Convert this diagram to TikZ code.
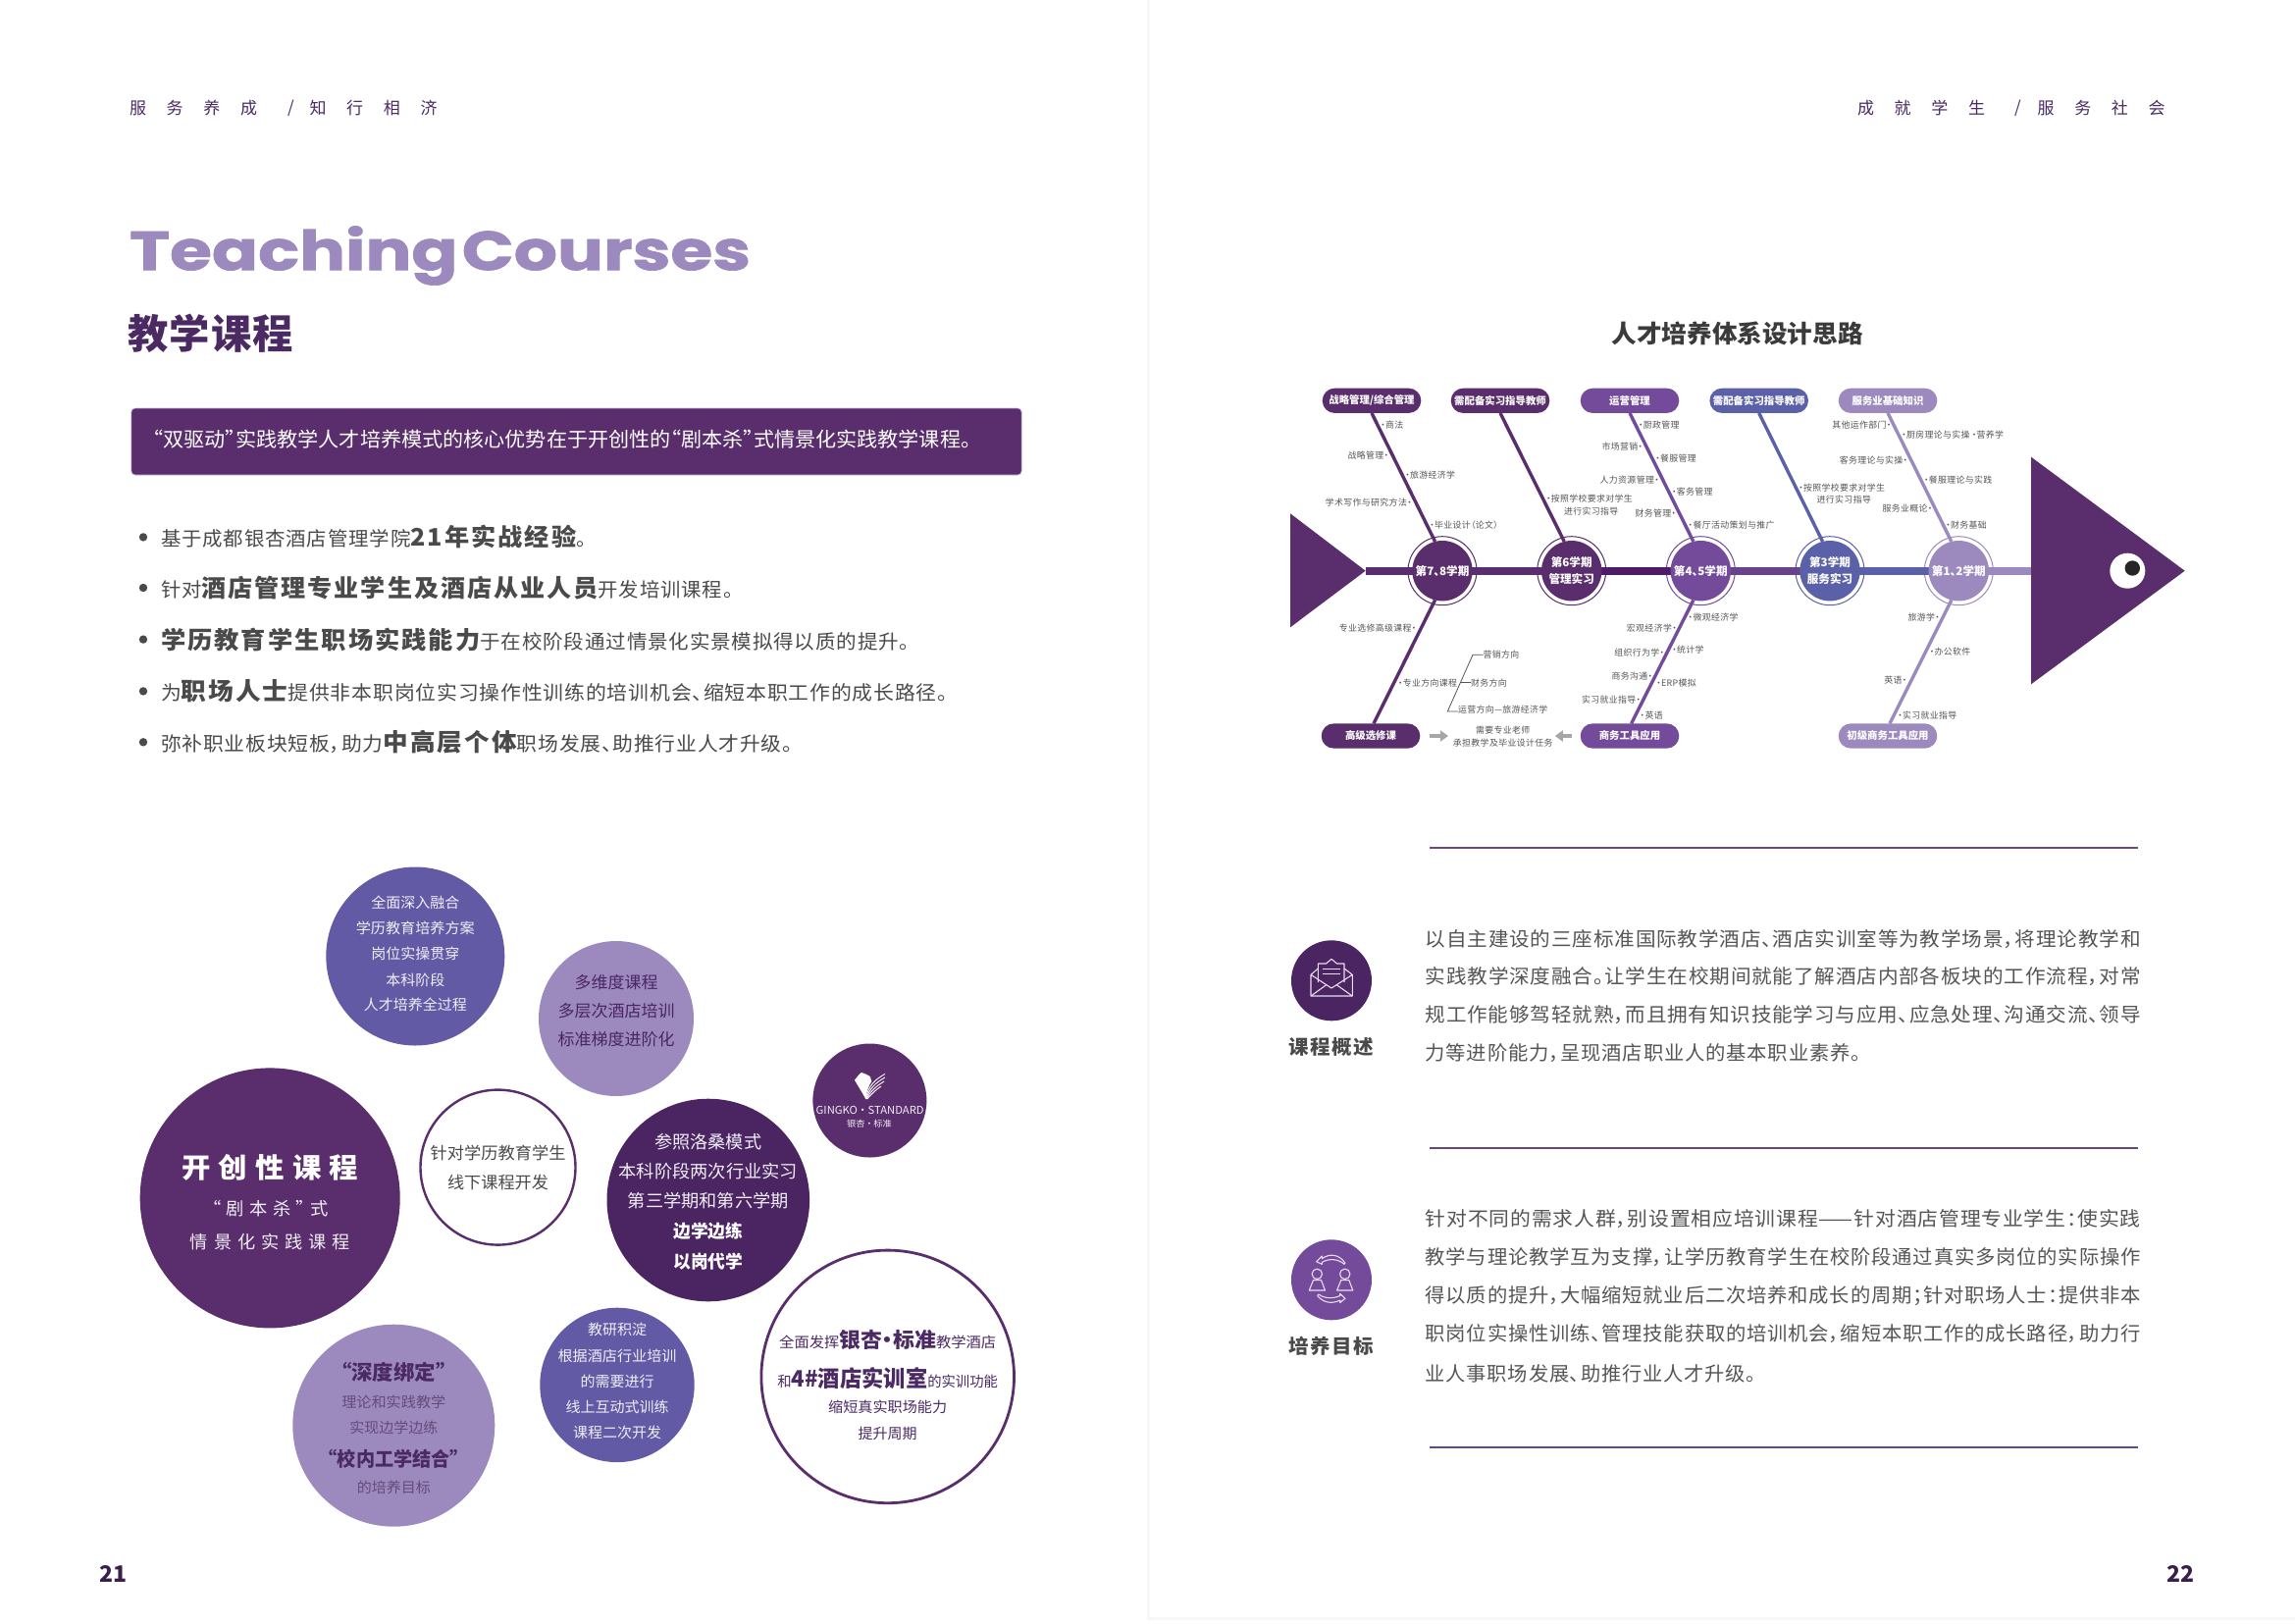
\documentclass[tikz,border=0pt]{standalone}
\usepackage{fontspec}
\usepackage{graphicx}
\usetikzlibrary{arrows.meta}
\setmainfont{Noto Sans CJK SC}[RawFeature=+palt]
\newfontfamily\titlefont[FakeBold=1.2]{Poppins}
\pgfdeclarelayer{rings}\pgfdeclarelayer{conn}\pgfsetlayers{rings,conn,main}
\definecolor{dk}{HTML}{5A2D6C}
\definecolor{dp}{HTML}{4B2462}
\definecolor{sp}{HTML}{4F1B68}
\definecolor{md}{HTML}{744A9B}
\definecolor{bl}{HTML}{5B61A8}
\definecolor{vi}{HTML}{625AA5}
\definecolor{lt}{HTML}{9C8ABF}
\definecolor{hd}{HTML}{4B2A63}
\definecolor{tx}{HTML}{4A4A4A}
\definecolor{fb}{HTML}{555555}
\definecolor{pl}{HTML}{EADCF0}
\definecolor{wh}{HTML}{F0EEF6}
\newcounter{tn}
\newcommand{\tshift}{0pt}
\newcommand{\ls}[1]{\addfontfeature{LetterSpace=#1}}
\newcommand{\W}[2]{\resizebox{\dimexpr#1pt/2\relax}{\height}{#2}}
\newcommand{\bigb}{\fontsize{12.3}{13}\selectfont\bfseries\ls{8}}
% \T[opts]{anchor}{x}{y}{size}{colour}{text}
\newcommand{\T}[7][]{\stepcounter{tn}\node (t\the\value{tn}) [anchor=#2,inner sep=0pt,outer sep=0pt,text=#6,yshift=\tshift,font={\fontsize{#5}{#5}\selectfont},#1] at (#3,#4) {#7};}
\newcommand{\FB}[4]{\T{#1}{#2}{#3}{4.45}{fb}{\ls{4}#4}}
\tikzset{
  disc/.style={circle,inner sep=0pt,outer sep=0pt,minimum size=#1},
  pill/.style={rectangle,rounded corners=6.3pt,fill=#1,text=white,inner sep=0pt,outer sep=0pt,minimum width=50.3pt,minimum height=12.65pt,font={\fontsize{5.2}{6}\selectfont\bfseries}},
  ringo/.style={circle,draw=#1,fill=white,line width=.5pt,inner sep=0pt,outer sep=0pt,minimum size=35pt},
  ringi/.style={circle,fill=#1,text=white,inner sep=0pt,outer sep=0pt,minimum size=30.7pt,align=center,font={\fontsize{5.8}{8.2}\selectfont\bfseries}},
  bone/.style={draw=#1,line width=1.7pt},
  spine/.style={draw=#1,line width=4pt},
  rule/.style={draw=#1,line width=1pt},
  grayarrow/.style={draw=gray!70,line width=1.6pt,-{Triangle[length=4pt,width=5.5pt]}},
  iconline/.style={draw=pl,line width=.55pt,line join=round}
}
\begin{document}
\begin{tikzpicture}[x=0.5pt,y=-0.5pt]
\useasboundingbox (0,0) rectangle (2339,1654);
\begin{pgfonlayer}{rings}
\fill[white] (0,0) rectangle (2339,1654);
\fill[black!3] (1169,0) rectangle (1172,1648);
\fill[black!3] (1169,1648) rectangle (2339,1651);
\end{pgfonlayer}

% ---------- left page ----------
\T{west}{132}{110}{8.5}{hd}{\ls{122}服务养成}
\T{west}{293}{110}{8.5}{hd}{/}
\T{west}{315.5}{110}{8.5}{hd}{\ls{122}知行相济}
\T{west}{132}{260.5}{28}{lt}{\W{633}{\titlefont\bfseries Teaching\hspace{.06em}Courses}}
\T{west}{130}{339.5}{20.5}{hd}{\W{169}{\bfseries\ls{3}教学课程}}

\node[rectangle,rounded corners=2pt,fill=dk,draw=lt!60,line width=.3pt,inner sep=0pt,outer sep=0pt,minimum width=453.7pt,minimum height=34pt] (banner) at (587.5,450) {};
\T{west}{156}{447.5}{10.3}{white}{\W{833.7}{“双驱动”实践教学人才培养模式的核心优势在于开创性的“剧本杀”式情景化实践教学课程。}}

\foreach \yy in {547.4,599,651.6,704.4,756.3}{\fill[tx] (146,\yy) circle [radius=2.1pt];}
\T{west}{164}{547.4}{10}{tx}{\W{433.4}{\ls{4}基于成都银杏酒店管理学院{\bigb 21年实战经验}。}}
\T{west}{164}{599}{10}{tx}{\W{583}{\ls{4}针对{\bigb 酒店管理专业学生及酒店从业人员}开发培训课程。}}
\T{west}{164}{651.6}{10}{tx}{\W{763}{\ls{4}{\bigb 学历教育学生职场实践能力}于在校阶段通过情景化实景模拟得以质的提升。}}
\T{west}{164}{704.4}{10}{tx}{\W{802}{\ls{4}为{\bigb 职场人士}提供非本职岗位实习操作性训练的培训机会、缩短本职工作的成长路径。}}
\T{west}{164}{756.3}{10}{tx}{\W{644}{\ls{4}弥补职业板块短板，助力{\bigb 中高层个体}职场发展、助推行业人才升级。}}

% circles
\node[disc=132.5pt,fill=dk] (cbig) at (275.2,1220.9) {};
\node[disc=91pt,fill=vi] (ctop) at (423.3,974.5) {};
\node[disc=79pt,fill=lt] (cmulti) at (628,1038) {};
\node[disc=79pt,draw=dk,line width=1.2pt,fill=white] (cline) at (507.5,1189.6) {};
\node[disc=103.3pt,fill=dp] (cref) at (721.8,1223) {};
\node[disc=58pt,fill=dk] (clogo) at (886.4,1121.5) {};
\node[disc=103pt,fill=lt] (cbind) at (401.3,1452.7) {};
\node[disc=78.7pt,fill=vi] (cres) at (629,1411.4) {};
\node[disc=128.8pt,draw=dk,line width=1.4pt,fill=white] (cgs) at (904.7,1402.9) {};

\renewcommand{\tshift}{-.7pt}
\T{center}{423.3}{918.8}{7.4}{wh}{\W{90}{全面深入融合}}
\T{center}{423.3}{944.7}{7.4}{wh}{\W{121}{学历教育培养方案}}
\T{center}{423.3}{970.6}{7.4}{wh}{\W{90}{岗位实操贯穿}}
\T{center}{423.3}{997}{7.4}{wh}{\W{60}{本科阶段}}
\T{center}{423.3}{1022.9}{7.4}{wh}{\W{105}{人才培养全过程}}

\T{center}{275.2}{1188}{14}{white}{\W{180}{\bfseries\ls{28}开创性课程}}
\T{center}{275.5}{1230.4}{9}{wh}{\W{119}{\ls{30}“剧本杀”式}}
\T{center}{275.5}{1264}{9}{wh}{\W{163}{\ls{33}情景化实践课程}}

\T{center}{507.5}{1173.7}{8.5}{tx}{\W{138}{针对学历教育学生}}
\T{center}{507.5}{1203.7}{8.5}{tx}{\W{103}{线下课程开发}}

\T{center}{628}{999.5}{8.4}{dp}{\W{85}{多维度课程}}
\T{center}{628}{1029}{8.4}{dp}{\W{119}{多层次酒店培训}}
\T{center}{628}{1058}{8.4}{dp}{\W{119}{标准梯度进阶化}}

\T{center}{721.8}{1162}{9}{wh}{\W{109}{参照洛桑模式}}
\T{center}{721.8}{1192}{9}{wh}{\W{182.5}{本科阶段两次行业实习}}
\T{center}{721.8}{1222}{9}{wh}{\W{164}{第三学期和第六学期}}
\T{center}{721.8}{1252.8}{9}{white}{\W{71}{\bfseries 边学边练}}
\T{center}{721.8}{1283.8}{9}{white}{\W{71}{\bfseries 以岗代学}}

\T{center}{401.3}{1397}{10.5}{hd}{\W{107}{\bfseries “深度绑定”}}
\T{center}{401.3}{1427.3}{7.4}{hd!85}{\W{106}{理论和实践教学}}
\T{center}{401.3}{1453.7}{7.4}{hd!85}{\W{90}{实现边学边练}}
\T{center}{401.3}{1485.4}{10}{hd}{\W{134}{\bfseries “校内工学结合”}}
\T{center}{401.3}{1514.8}{7.4}{hd!85}{\W{75}{的培养目标}}

\T{center}{629}{1353.4}{7.4}{wh}{\W{60}{教研积淀}}
\T{center}{629}{1380}{7.4}{wh}{\W{121}{根据酒店行业培训}}
\T{center}{629}{1406}{7.4}{wh}{\W{75}{的需要进行}}
\T{center}{629}{1432.6}{7.4}{wh}{\W{105}{线上互动式训练}}
\T{center}{629}{1458.4}{7.4}{wh}{\W{90}{课程二次开发}}

\T{center}{904.7}{1363.7}{7.4}{hd}{\W{221}{全面发挥{\fontsize{10.6}{10.6}\selectfont\bfseries 银杏·标准}教学酒店}}
\T{center}{904.7}{1403.3}{7.4}{hd}{\W{224.5}{和{\fontsize{11.5}{11.5}\selectfont\bfseries 4\#酒店实训室}的实训功能}}
\T{center}{904.7}{1432.6}{7.4}{hd}{\W{121}{缩短真实职场能力}}
\T{center}{904.7}{1459.4}{7.4}{hd}{\W{60}{提升周期}}
\renewcommand{\tshift}{0pt}

% logo
\fill[white] (882.3,1120) .. controls (878,1112) and (874,1106) .. (871,1100.7) .. controls (874,1097) and (876,1094) .. (878,1093) .. controls (881,1094) and (884,1095) .. (886.7,1097) .. controls (887,1099) and (888,1100) .. (888.3,1102) .. controls (885,1107) and (883,1113) .. (882.3,1120) -- cycle;
\draw[white,line width=.45pt] (882.3,1120) .. controls (885,1106) and (892,1100) .. (902,1094.5);
\draw[white,line width=.45pt] (882.8,1120) .. controls (886,1109) and (893,1103) .. (902,1098);
\draw[white,line width=.45pt] (883.3,1120) .. controls (887,1112) and (893,1107) .. (901,1102);
\draw[white,line width=.45pt] (883.8,1120) .. controls (888,1115) and (892,1111) .. (898,1107);
\T{center}{886.7}{1131.7}{5.5}{wh}{\W{110}{GINGKO · STANDARD}}
\T{center}{886}{1145}{4.4}{wh}{\W{46}{银杏 · 标准}}

\T{center}{115.5}{1603.6}{11.5}{hd!75!black}{\bfseries 21}
\T{center}{2222.6}{1603.6}{11.5}{hd!75!black}{\bfseries 22}

% ---------- right page ----------
\T{west}{1893}{110}{8.5}{hd}{\ls{122}成就学生}
\T{west}{2053}{110}{8.5}{hd}{/}
\T{west}{2076.5}{110}{8.5}{hd}{\ls{122}服务社会}
\T{center}{1770.7}{340}{12.5}{tx!80!black}{\W{256}{\bfseries 人才培养体系设计思路}}

% fish body
\fill[dk] (1315,523.3) -- (1391.7,581.7) -- (1315,639.3) -- cycle;
\coordinate (tailtip) at (1391.7,581.7);
\fill[dk] (2070,465.7) -- (2226.7,581.7) -- (2070,697.3) -- cycle;
\coordinate (headbase) at (2070,581.7);
\fill[white] (2168.3,581.7) circle [radius=9pt];
\fill[black!85] (2173.3,579) circle [radius=3.85pt];

\begin{pgfonlayer}{rings}
\node[ringo=dk] (r1) at (1470,581.7) {};
\node[ringo=dk] (r2) at (1601.7,581.7) {};
\node[ringo=md] (r3) at (1733.3,581.7) {};
\node[ringo=bl] (r4) at (1865,581.7) {};
\node[ringo=lt] (r5) at (1996.3,581.7) {};
\end{pgfonlayer}
\node[ringi=dk] (c1) at (1470,581.7) {第7、8学期};
\node[ringi=dk] (c2) at (1601.7,581.7) {第6学期\\管理实习};
\node[ringi=md] (c3) at (1733.3,581.7) {第4、5学期};
\node[ringi=bl] (c4) at (1865,581.7) {第3学期\\服务实习};
\node[ringi=lt] (c5) at (1996.3,581.7) {第1、2学期};

\node[pill=dk] (p1) at (1398,408.3) {战略管理/综合管理};
\node[pill=dk] (p2) at (1529,408.3) {需配备实习指导教师};
\node[pill=md] (p3) at (1661,408.3) {运营管理};
\node[pill=bl] (p4) at (1792.7,408.3) {需配备实习指导教师};
\node[pill=lt] (p5) at (1924,408.3) {服务业基础知识};
\node[pill=dk] (q1) at (1397,750) {高级选修课};
\node[pill=md] (q3) at (1661,750) {商务工具应用};
\node[pill=lt] (q5) at (1924,750) {初级商务工具应用};

\begin{pgfonlayer}{conn}
\draw[spine=dk] (tailtip) -- (r1.center);
\draw[spine=dk] (r1.center) -- (r2.center);
\draw[spine=sp] (r2.center) -- (r3.center);
\draw[spine=md!90!black] (r3.center) -- (r4.center);
\draw[spine=bl] (r4.center) -- (r5.center);
\draw[spine=lt] (r5.center) -- (headbase);
\draw[bone=dk] (p1.south) -- (c1.104);
\draw[bone=dk] (p2.south) -- (c2.104);
\draw[bone=md] (p3.south) -- (c3.104);
\draw[bone=bl] (p4.south) -- (c4.104);
\draw[bone=lt] (p5.south) -- (c5.104);
\draw[bone=dk] (c1.256) -- ([xshift=1.5pt]q1.north);
\draw[bone=md] (c3.256) -- ([xshift=.8pt]q3.north);
\draw[bone=lt] (c5.256) -- ([xshift=1pt]q5.north);
\end{pgfonlayer}

% fishbone labels
\FB{west}{1407.3}{433.3}{·商法}
\FB{east}{1415}{463.7}{战略管理·}
\FB{west}{1432.3}{484.3}{·旅游经济学}
\FB{east}{1438.7}{512.3}{学术写作与研究方法·}
\FB{west}{1457.3}{535.3}{·毕业设计（论文）}
\FB{west}{1576}{508.3}{·按照学校要求对学生}
\FB{center}{1621.7}{521}{进行实习指导}
\FB{west}{1670}{433}{·厨政管理}
\FB{east}{1674}{455.3}{市场营销·}
\FB{west}{1687.3}{467.3}{·餐服管理}
\FB{east}{1690.7}{489}{人力资源管理·}
\FB{west}{1704}{501}{·客务管理}
\FB{east}{1708}{522.7}{财务管理·}
\FB{west}{1720.7}{535.3}{·餐厅活动策划与推广}
\FB{east}{1443.3}{640}{专业选修高级课程·}
\FB{west}{1425}{695.7}{·专业方向课程}
\T[alias=yx1]{west}{1511.7}{667.3}{4.45}{fb}{\ls{4}营销方向}
\T[alias=yx2]{west}{1499}{695.7}{4.45}{fb}{\ls{4}财务方向}
\T[alias=yx3]{west}{1486}{723.3}{4.45}{fb}{\ls{4}运营方向—旅游经济学}
\coordinate (br1) at (1501,667.3);
\coordinate (br2) at (1475.3,725);
\coordinate (br3) at (1488.3,695.7);
\draw[fb,line width=.4pt] (yx1.west) -- (br1) -- (br2) -- ([yshift=-.8pt]yx3.west);
\draw[fb,line width=.4pt] (br3) -- (yx2.west);
\FB{west}{1720.7}{629}{·微观经济学}
\FB{east}{1708.7}{640.3}{宏观经济学·}
\FB{east}{1696}{665}{组织行为学·}
\FB{west}{1704.3}{662.3}{·统计学}
\FB{east}{1684}{689.3}{商务沟通·}
\FB{west}{1688.3}{695.7}{·ERP模拟}
\FB{east}{1672}{713.3}{实习就业指导·}
\FB{west}{1671.7}{729}{·英语}
\node[inner sep=0pt,outer sep=0pt,align=center,text=fb,font={\fontsize{4.45}{6.35}\selectfont\addfontfeature{LetterSpace=4}}] (ctext) at (1531.7,750.3) {需要专业老师\\承担教学及毕业设计任务};
\draw[grayarrow,shorten <=5pt,shorten >=2.5pt] (q1.east) -- (ctext.west |- q1.east);
\draw[grayarrow,shorten <=4.4pt,shorten >=1.2pt] (q3.west) -- (ctext.east |- q3.west);
\FB{east}{1927.3}{433}{其他运作部门·}
\FB{west}{1938.3}{442.7}{·厨房理论与实操 ·营养学}
\FB{east}{1944}{468.7}{客务理论与实操·}
\FB{west}{1961}{489}{·餐服理论与实践}
\FB{east}{1969.3}{518.3}{服务业概论·}
\FB{west}{1983.3}{535.3}{·财务基础}
\FB{west}{1833.3}{496.7}{·按照学校要求对学生}
\FB{center}{1879.3}{509}{进行实习指导}
\FB{east}{1976.7}{629}{旅游学·}
\FB{west}{1966.7}{664.3}{·办公软件}
\FB{east}{1943.3}{693}{英语·}
\FB{west}{1934.3}{729}{·实习就业指导}

% rules
\coordinate (ra) at (1457,864); \coordinate (rb) at (2179.4,864);
\coordinate (rc) at (1457,1169.5); \coordinate (rd) at (2179.4,1169.5);
\coordinate (re) at (1457,1475); \coordinate (rf) at (2179.4,1475);
\draw[rule=hd!85] (ra) -- (rb);
\draw[rule=hd!85] (rc) -- (rd);
\draw[rule=hd!85] (re) -- (rf);

% icons
\node[disc=41pt,fill=dp] (ic1) at (1357,999.3) {};
\node[disc=41pt,fill=md] (ic2) at (1357,1304.3) {};
\draw[iconline] (1336,993.3) -- (1336,1015) -- (1378.3,1015) -- (1378.3,993.3) -- (1370,987) (1343.3,987) -- (1336,993.3) -- (1357,1007) -- (1378.3,993.3);
\draw[iconline] (1336,1015) -- (1352,1003.5) (1378.3,1015) -- (1362,1003.5);
\draw[iconline] (1343.3,1001) -- (1343.3,982) -- (1351.5,982) -- (1357,977.3) -- (1362.5,982) -- (1370,982) -- (1370,1001);
\draw[iconline] (1348,987.5) -- (1365.5,987.5) (1348,992.5) -- (1365.5,992.5);
% persons
\draw[iconline] (1342.3,1298.3) circle [radius=2.6pt];
\draw[iconline] (1370.7,1298.3) circle [radius=2.6pt];
\draw[iconline] (1338.5,1304.5) -- (1334.3,1315) -- (1350.5,1315) -- (1346.5,1304.5) -- cycle;
\draw[iconline] (1366.8,1304.5) -- (1362.6,1315) -- (1378.8,1315) -- (1374.8,1304.5) -- cycle;
\draw[iconline] (1341.7,1285.7) -- (1347.3,1280) -- (1347.3,1282.7) .. controls (1355,1277) and (1365,1278) .. (1371,1287.3) -- (1370,1288.3) .. controls (1364,1283) and (1355,1282) .. (1347.3,1286.3) -- (1347.3,1288.3) -- cycle;
\draw[iconline] (1371,1323.3) -- (1365.7,1318.3) -- (1365.7,1320.5) .. controls (1358,1324) and (1349,1323) .. (1343.7,1319) -- (1342.7,1320.5) .. controls (1349,1328) and (1358,1329) .. (1365.7,1325) -- (1365.7,1327.5) -- cycle;
\T{center}{1357}{1066.8}{10}{tx}{\W{87}{\bfseries\ls{8}课程概述}}
\T{center}{1357}{1371.8}{10}{tx}{\W{87}{\bfseries\ls{8}培养目标}}

% paragraphs
\renewcommand{\tshift}{-.7pt}
\T{west}{1452.7}{955.2}{10}{fb}{\W{729}{\ls{4}以自主建设的三座标准国际教学酒店、酒店实训室等为教学场景，将理论教学和}}
\T{west}{1452.7}{994}{10}{fb}{\W{729}{\ls{4}实践教学深度融合。让学生在校期间就能了解酒店内部各板块的工作流程，对常}}
\T{west}{1452.7}{1032.8}{10}{fb}{\W{729}{\ls{4}规工作能够驾轻就熟，而且拥有知识技能学习与应用、应急处理、沟通交流、领导}}
\T{west}{1452.7}{1072}{10}{fb}{\W{444}{\ls{4}力等进阶能力，呈现酒店职业人的基本职业素养。}}
\T{west}{1452.7}{1241}{10}{fb}{\W{729}{\ls{4}针对不同的需求人群，别设置相应培训课程——针对酒店管理专业学生：使实践}}
\T{west}{1452.7}{1280}{10}{fb}{\W{729}{\ls{4}教学与理论教学互为支撑，让学历教育学生在校阶段通过真实多岗位的实际操作}}
\T{west}{1452.7}{1319}{10}{fb}{\W{729}{\ls{4}得以质的提升，大幅缩短就业后二次培养和成长的周期；针对职场人士：提供非本}}
\T{west}{1452.7}{1358}{10}{fb}{\W{729}{\ls{4}职岗位实操性训练、管理技能获取的培训机会，缩短本职工作的成长路径，助力行}}
\T{west}{1452.7}{1398}{10}{fb}{\W{337}{\ls{4}业人事职场发展、助推行业人才升级。}}
\end{tikzpicture}
\end{document}
